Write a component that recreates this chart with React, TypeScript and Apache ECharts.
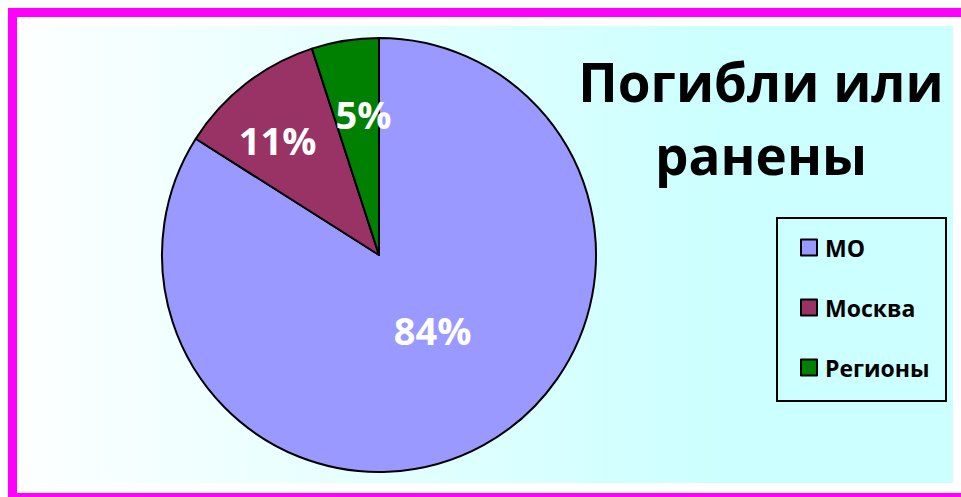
import React, { useEffect, useRef } from 'react';
import * as echarts from 'echarts';

const categories = ['МО', 'Москва', 'Регионы'];
const values = [84, 11, 5];
const colors = ['#9999FF', '#993366', '#008000'];
const titleLines = ['Погибли или', 'ранены'];
// label nudges (px) away from the default inside position
const labelOffsets = [
  [0, -23],
  [-33, -27],
  [2, -31],
];

export default function App() {
  const ref = useRef<HTMLDivElement>(null);
  useEffect(() => {
    const chart = echarts.init(ref.current!, null, { renderer: 'svg' });
    const font = "'Open Sans', 'Noto Sans', sans-serif";
    const titleStyle = {
      fontFamily: font,
      fontWeight: 'bold',
      fontSize: 53,
      color: '#000000',
    };
    chart.setOption({
      animation: false,
      graphic: [
        {
          type: 'rect',
          z: -10,
          silent: true,
          shape: { x: 26, y: 26, width: 927, height: 457 },
          style: {
            fill: new echarts.graphic.LinearGradient(0, 0, 1, 0, [
              { offset: 0, color: '#FCFFFF' },
              { offset: 0.75, color: '#CCFFFF' },
              { offset: 1, color: '#CCFFFF' },
            ]),
          },
        },
        {
          type: 'rect',
          z: -9,
          silent: true,
          shape: { x: 12.5, y: 12.5, width: 990, height: 485 },
          style: { fill: 'none', stroke: '#FF00FF', lineWidth: 9 },
        },
        {
          type: 'rect',
          z: -8,
          silent: true,
          shape: { x: 777, y: 218, width: 169, height: 183 },
          style: { fill: 'none', stroke: '#000000', lineWidth: 2 },
        },
      ],
      title: [
        {
          text: titleLines[0],
          left: 761,
          top: 55,
          textAlign: 'center',
          padding: 0,
          textStyle: titleStyle,
        },
        {
          text: titleLines[1],
          left: 761,
          top: 128,
          textAlign: 'center',
          padding: 0,
          textStyle: titleStyle,
        },
      ],
      legend: {
        orient: 'vertical',
        left: 800,
        top: 236,
        padding: 0,
        icon: 'rect',
        itemWidth: 16,
        itemHeight: 16,
        itemGap: 37,
        itemStyle: { borderColor: '#000000', borderWidth: 2 },
        textStyle: {
          fontFamily: font,
          fontWeight: 'bold',
          fontSize: 23,
          lineHeight: 16,
          color: '#000000',
          padding: [0, 0, 0, 3],
        },
        data: categories,
      },
      series: [
        {
          type: 'pie',
          center: [379, 255],
          radius: 217,
          startAngle: 90,
          clockwise: true,
          data: categories.map((name, i) => ({
            name,
            value: values[i],
            itemStyle: { color: colors[i] },
          })),
          itemStyle: { borderColor: '#000000', borderWidth: 2 },
          label: {
            show: true,
            position: 'inside',
            formatter: '{c}%',
            fontFamily: font,
            fontWeight: 'bold',
            fontSize: 38,
            color: '#FFFFFF',
          },
          labelLine: { show: false },
          labelLayout: (params: any) => {
            const o = labelOffsets[params.dataIndex];
            return { dx: o[0], dy: o[1] };
          },
          emphasis: { disabled: true },
        },
      ],
    });
    return () => chart.dispose();
  }, []);
  return (
    <div
      ref={ref}
      style={{ position: 'absolute', left: 0, top: 0, width: 961, height: 497 }}
    />
  );
}
